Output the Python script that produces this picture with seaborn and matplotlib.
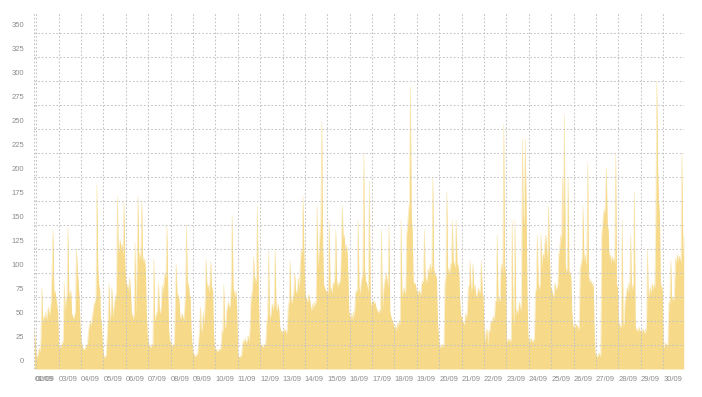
import pandas as pd
import matplotlib.pyplot as plt
import matplotlib.dates as mdates
from matplotlib.transforms import ScaledTranslation
import seaborn as sns

# hourly values (start 01/09 22:00, end 30/09 22:00)
week1 = [
    42, 28,  # 01/09 22h-23h
    14, 12, 16, 22, 18, 30, 85, 48, 55, 52, 60, 50, 58, 65, 55, 62, 70, 105, 145, 78, 82, 75, 68, 60,  # 02/09
    26, 24, 22, 25, 27, 30, 90, 60, 72, 78, 148, 80, 76, 82, 58, 55, 52, 56, 60, 125, 106, 90, 75, 45,  # 03/09
    30, 24, 22, 20, 21, 23, 25, 27, 40, 46, 50, 44, 55, 60, 68, 70, 75, 192, 106, 88, 82, 55, 45, 25,  # 04/09
    15, 12, 13, 14, 35, 55, 90, 50, 58, 85, 55, 62, 70, 75, 80, 180, 120, 128, 135, 125, 130, 118, 175, 110,  # 05/09
    92, 85, 88, 80, 95, 82, 60, 55, 52, 58, 132, 56, 110, 180, 115, 120, 112, 175, 118, 110, 115, 105, 60, 35,  # 06/09
    28, 25, 24, 22, 26, 25, 115, 50, 55, 58, 62, 90, 60, 58, 65, 88, 80, 92, 100, 95, 150, 85, 40, 30,  # 07/09
]
week2 = [
    28, 25, 24, 26, 25, 70, 110, 75, 78, 72, 55, 52, 58, 55, 50, 62, 80, 150, 85, 90, 78, 75, 40, 25,  # 08/09
    18, 15, 14, 13, 16, 15, 30, 40, 65, 38, 42, 60, 45, 70, 115, 85, 88, 80, 90, 112, 82, 85, 40, 20,  # 09/09
    22, 20, 18, 19, 21, 20, 22, 40, 38, 88, 42, 45, 60, 65, 70, 62, 68, 90, 160, 85, 80, 75, 82, 60,  # 10/09
    15, 13, 12, 14, 13, 25, 30, 28, 32, 26, 30, 35, 28, 40, 70, 78, 85, 117, 90, 95, 88, 170, 85, 40,  # 11/09
    26, 24, 25, 22, 26, 24, 28, 50, 55, 123, 58, 52, 62, 68, 60, 70, 125, 65, 60, 68, 62, 45, 40, 38,  # 12/09
    40, 38, 42, 40, 36, 42, 65, 70, 113, 72, 68, 75, 80, 100, 82, 78, 85, 95, 80, 110, 125, 120, 180, 115,  # 13/09
    80, 75, 72, 70, 78, 74, 65, 60, 68, 62, 70, 66, 72, 170, 105, 120, 140, 155, 258, 130, 88, 85, 82, 80,  # 14/09
]
week3 = [
    82, 78, 155, 80, 85, 78, 90, 88, 95, 145, 92, 85, 90, 88, 95, 125, 170, 135, 140, 120, 130, 125, 100, 60,  # 15/09
    55, 52, 58, 50, 60, 55, 78, 82, 80, 155, 85, 78, 88, 95, 100, 225, 105, 92, 90, 85, 80, 196, 72, 65,  # 16/09
    70, 72, 68, 70, 65, 62, 60, 58, 62, 60, 145, 58, 80, 88, 95, 100, 92, 85, 148, 60, 55, 52, 50, 45,  # 17/09
    42, 45, 40, 48, 44, 50, 46, 155, 75, 80, 85, 78, 82, 140, 150, 165, 175, 295, 160, 145, 92, 88, 90, 85,  # 18/09
    80, 78, 82, 80, 76, 88, 92, 90, 145, 88, 95, 90, 105, 100, 110, 102, 108, 200, 105, 100, 98, 95, 50, 35,  # 19/09
    25, 22, 24, 26, 23, 25, 90, 95, 185, 100, 105, 98, 110, 108, 155, 112, 110, 105, 155, 110, 108, 100, 70, 55,  # 20/09
    55, 50, 48, 45, 58, 52, 60, 85, 88, 113, 80, 85, 110, 82, 88, 78, 75, 80, 85, 78, 82, 113, 80, 75,  # 21/09
]
week4 = [
    40, 28, 38, 42, 25, 40, 38, 50, 48, 52, 55, 50, 70, 72, 140, 68, 75, 70, 105, 110, 100, 255, 108, 100,  # 22/09
    30, 28, 32, 30, 28, 32, 155, 60, 45, 155, 55, 62, 58, 65, 70, 60, 68, 240, 160, 150, 240, 175, 80, 35,  # 23/09
    30, 28, 32, 30, 28, 30, 32, 80, 85, 140, 90, 82, 88, 140, 105, 120, 115, 130, 140, 125, 110, 170, 120, 85,  # 24/09
    85, 80, 75, 78, 90, 82, 85, 88, 120, 125, 140, 130, 200, 135, 265, 110, 100, 105, 200, 98, 102, 95, 60, 45,  # 25/09
    45, 42, 48, 44, 46, 40, 45, 105, 110, 115, 170, 112, 120, 108, 118, 215, 90, 95, 88, 92, 85, 90, 40, 15,  # 26/09
    15, 12, 14, 17, 13, 16, 140, 150, 165, 160, 175, 210, 150, 145, 115, 120, 110, 118, 112, 115, 110, 225, 88, 85,  # 27/09
    45, 48, 42, 46, 155, 44, 48, 70, 75, 85, 80, 90, 78, 140, 82, 88, 85, 185, 45, 40, 42, 38, 44, 40,  # 28/09
    40, 38, 42, 40, 36, 42, 38, 125, 75, 80, 85, 78, 90, 82, 88, 85, 155, 300, 210, 175, 160, 85, 88, 82,  # 29/09
    25, 22, 28, 24, 26, 25, 70, 68, 113, 72, 75, 70, 78, 115, 110, 120, 112, 118, 115, 110, 225, 115, 140,  # 30/09 0h-22h
]

y_ticks = list(range(0, 351, 25))
day_labels = ['%02d/09' % d for d in range(1, 31)]

values = week1 + week2 + week3 + week4
times = pd.date_range('2023-09-01 22:00', periods=len(values), freq='h')
df = pd.DataFrame({'time': times, 'value': values})

sns.set_theme(style='white')
plt.rcParams['font.family'] = ['Liberation Sans', 'DejaVu Sans']

fig = plt.figure(figsize=(7.02, 3.97), dpi=100)
ax = fig.add_axes([0.0489, 0.0705, 0.9251, 0.8992])

fill_col = '#f6da8a'
ax.fill_between(df['time'], df['value'], 0, color=fill_col, lw=0)
sns.lineplot(data=df, x='time', y='value', ax=ax, color=fill_col, lw=0.4, alpha=0.6)

# day ticks: first one sits on the left edge, others at midnight
start = times[0]
day_ticks = [start] + list(pd.date_range('2023-09-02', '2023-09-30', freq='D'))
ax.set_xticks(mdates.date2num(day_ticks))
ax.set_xticklabels(day_labels)
ax.set_xlim(mdates.date2num(times[0]), mdates.date2num(times[-1]))
ax.set_ylim(0, 372)
ax.set_yticks(y_ticks)
ax.set_yticklabels([str(v) for v in y_ticks])
ax.set_xlabel('')
ax.set_ylabel('')

for s in ax.spines.values():
    s.set_visible(False)

ax.grid(True, color='#c4c4c4', lw=0.75, ls=(0, (1.6, 1.9)))
ax.set_axisbelow(False)
ax.tick_params(length=0, labelsize=5.5, labelcolor='#8c8c8c')
ax.tick_params(axis='x', pad=5)
ax.tick_params(axis='y', pad=7.2)

for lab in ax.get_xticklabels():
    lab.set_horizontalalignment('left')
shift = ScaledTranslation(0, 9 / 100, fig.dpi_scale_trans)
for lab in ax.get_yticklabels():
    lab.set_transform(lab.get_transform() + shift)

fig.savefig('out.png', dpi=100)
